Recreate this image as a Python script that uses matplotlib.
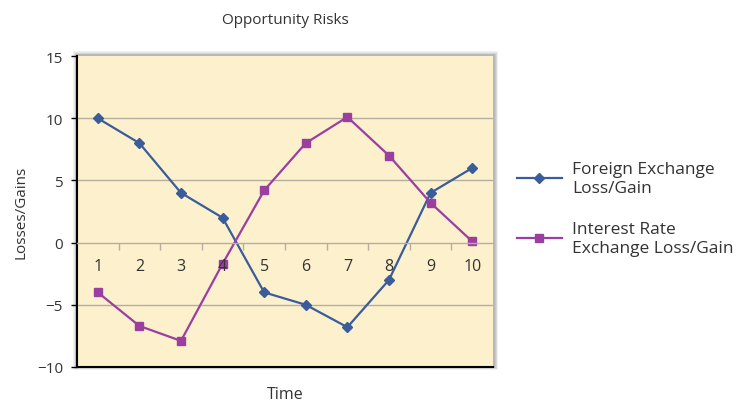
#!/usr/bin/env python3
"""Opportunity risks: foreign exchange vs interest rate loss/gain over time."""

import matplotlib
matplotlib.use("Agg")
import matplotlib.pyplot as plt
from matplotlib.patches import Rectangle

plt.rcParams["font.family"] = ["Open Sans", "DejaVu Sans"]

time = [1, 2, 3, 4, 5, 6, 7, 8, 9, 10]
fx_loss_gain = [10, 8, 4, 2, -4, -5, -6.8, -3, 4, 6]
ir_loss_gain = [-4, -6.7, -7.9, -1.7, 4.2, 8, 10.1, 7, 3.2, 0.1]
y_ticks = [15, 10, 5, 0, -5, -10]

BLUE = "#3a5c9b"
PURPLE = "#9a3f9f"
BEIGE = "#fdf0cd"

fig = plt.figure(figsize=(7.36, 4.02), dpi=100)
fig.patch.set_facecolor("white")
ax = fig.add_axes([0.1046, 0.0846, 0.5652, 0.7734])

# soft shadow behind the plot area
for i, a in enumerate([0.05, 0.05, 0.06, 0.07, 0.08]):
    off = 0.012 - i * 0.002
    fig.patches.append(Rectangle((0.1046 - off * 0.4, 0.0846 - off * 0.6),
                                 0.5652 + off * 1.0, 0.7734 + off * 1.6,
                                 transform=fig.transFigure, facecolor="black",
                                 edgecolor="none", alpha=a, zorder=0))

ax.set_facecolor(BEIGE)
ax.set_zorder(1)

for y in [10, 5, -5]:
    ax.axhline(y, color="#b5aea0", lw=1.0, zorder=1)

ax.plot(time, fx_loss_gain, color=BLUE, lw=1.6, marker="D", ms=5,
        label="Foreign Exchange\nLoss/Gain", zorder=3)
ax.plot(time, ir_loss_gain, color=PURPLE, lw=1.6, marker="s", ms=5.5,
        label="Interest Rate\nExchange Loss/Gain", zorder=3)

ax.set_xlim(0.5, 10.5)
ax.set_ylim(-10, 15)
ax.set_yticks(y_ticks)
ax.set_xticks([])
ax.tick_params(axis="y", length=4, width=1, color="black", labelsize=11,
               labelcolor="#333333", pad=6)

for side in ["top", "right"]:
    ax.spines[side].set_visible(False)
ax.spines["left"].set_color("black")
ax.spines["left"].set_linewidth(1.5)
ax.spines["bottom"].set_color("black")
ax.spines["bottom"].set_linewidth(1.5)

# category axis crossing at y = 0
sec = ax.secondary_xaxis(0.4)
sec.set_xticks(time)
sec.set_xticklabels([str(t) for t in time])
sec.set_xticks([t + 0.5 for t in time[:-1]], minor=True)
sec.tick_params(axis="x", which="major", length=0, pad=11, labelsize=11.5,
                labelcolor="#333333")
sec.tick_params(axis="x", which="minor", length=5, width=1, color="#b5aea0",
                direction="out")
sec.spines["bottom"].set_color("#b5aea0")
sec.spines["bottom"].set_linewidth(1.0)
sec.set_zorder(4)

ax.set_title("Opportunity Risks", fontsize=11, color="#333333", pad=24)
ax.set_xlabel("Time", fontsize=11.5, color="#333333", labelpad=14)
ax.set_ylabel("Losses/Gains", fontsize=11, color="#333333", labelpad=6)

leg = ax.legend(loc="center left", bbox_to_anchor=(1.02, 0.51), frameon=False,
                fontsize=12.5, handlelength=2.6, handletextpad=0.6,
                labelspacing=1.4, labelcolor="#333333")
for txt in leg.get_texts():
    txt.set_linespacing(1.3)

fig.savefig("out.png", dpi=100)
